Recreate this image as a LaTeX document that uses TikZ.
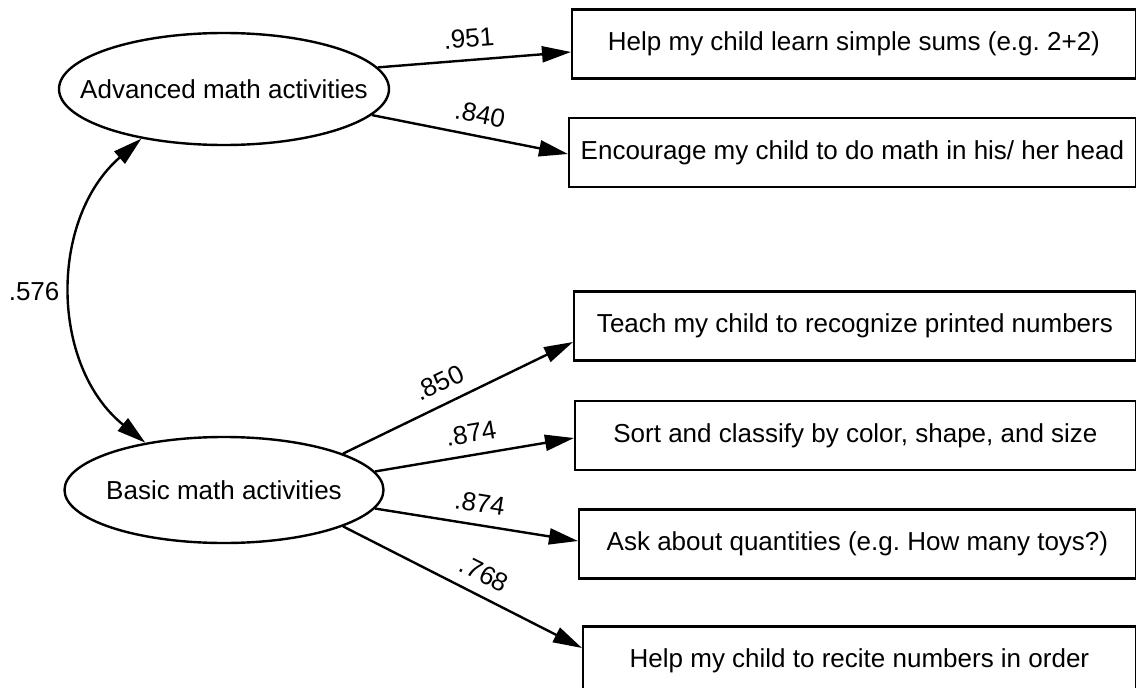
\documentclass[tikz,border=0pt]{standalone}
\usepackage{fontspec}
\setmainfont{Liberation Sans}
\usetikzlibrary{shapes.geometric,arrows.meta}
\frenchspacing

\begin{document}
\begin{tikzpicture}[x=1pt,y=1pt,line width=2.4pt,
  font=\fontsize{26}{31}\selectfont,
  latent/.style={draw,ellipse,inner sep=0pt},
  item/.style={draw,rectangle,anchor=west,inner sep=0pt,minimum height=69pt},
  loading/.style={-{Triangle[length=29pt,width=16pt]}},
  covar/.style={{Triangle[length=29pt,width=16pt]}-{Triangle[length=29pt,width=16pt]}},
  coef/.style={sloped,above=8pt}]

\useasboundingbox (0,0) rectangle (1136,-688);

\node[latent,minimum width=330pt,minimum height=112pt,label=center:Advanced math activities] (adv) at (224,-89) {};
\node[latent,minimum width=319pt,minimum height=106pt,label=center:Basic math activities] (basic) at (224,-490) {};

\node[item,minimum width=563.5pt] (sums) at (571,-44) {Help my child learn simple sums (e.g. 2+2)};
\node[item,minimum width=566.5pt] (head) at (568,-152.5) {Encourage my child to do math in his/ her head};
\node[item,minimum width=561.5pt] (printed) at (573,-326) {Teach my child to recognize printed numbers};
\node[item,minimum width=560.5pt] (sort) at (574,-435.5) {Sort and classify by color, shape, and size};
\node[item,minimum width=556.5pt] (ask) at (578,-544) {Ask about quantities (e.g. How many toys?)};
\node[item,minimum width=552.5pt] (recite) at (582,-661) {Help my child to recite numbers in order};

\draw[loading] (adv.8) -- node[coef,pos=.48] {.951} ([yshift=-8pt]sums.west);
\draw[loading] (adv.350) -- node[coef,pos=.53] {.840} ([yshift=-1.5pt]head.west);

\draw[loading] (basic.17) -- node[coef,pos=.46] {.850} ([yshift=-16pt]printed.west);
\draw[loading] (basic.7) -- node[coef] {.874} ([yshift=-2.5pt]sort.west);
\draw[loading] (basic.353) -- node[coef] {.874} ([yshift=3pt]ask.west);
\draw[loading] (basic.343) -- node[coef,pos=.55] {.768} ([yshift=13pt]recite.west);

\draw[covar] (adv.211) to[out=221,in=141,looseness=1.03] node[left=9pt] {.576} (basic.149);

\end{tikzpicture}
\end{document}
